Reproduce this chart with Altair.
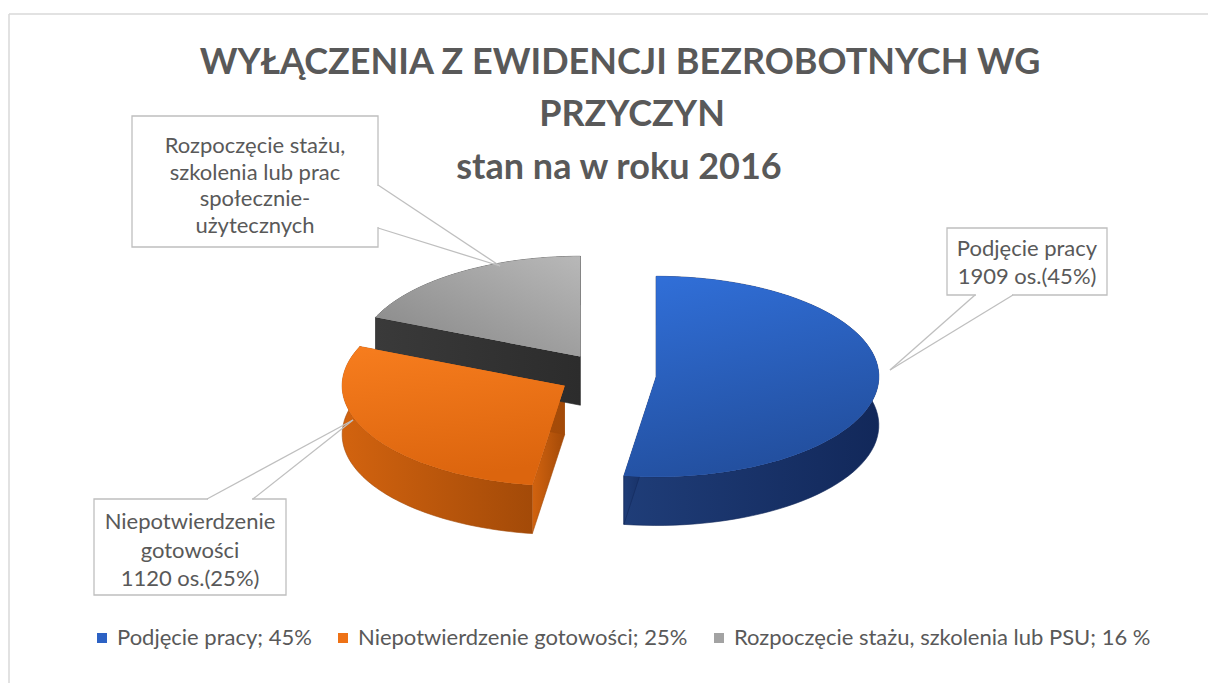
import altair as alt
import pandas as pd

# ---------------- data ----------------
categories = ["Podjęcie pracy", "Niepotwierdzenie gotowości", "Rozpoczęcie stażu, szkolenia lub PSU"]
percent = [45, 25, 16]
persons = [1909, 1120]
legend_labels = ["Podjęcie pracy; 45%", "Niepotwierdzenie gotowości; 25%",
                 "Rozpoczęcie stażu, szkolenia lub PSU; 16 %"]
title_lines = ["WYŁĄCZENIA Z EWIDENCJI BEZROBOTNYCH WG", "PRZYCZYN", "stan na w roku 2016"]
label_blue = ["Podjęcie pracy", f"{persons[0]} os.({percent[0]}%)"]
label_orange = ["Niepotwierdzenie", "gotowości", f"{persons[1]} os.({percent[1]}%)"]
label_gray = ["Rozpoczęcie stażu,", "szkolenia lub prac", "społecznie-", "użytecznych"]

# ---------------- styles ----------------
top_colors = ["#2d62c4", "#ee7216", "#a3a3a3"]
top_gradients = [
    # (x1, y1, x2, y2, start colour, end colour)
    (0, 0, 0.3, 1, "#3170da", "#2350a0"),
    (0, 0, 0.2, 1, "#f77d1e", "#dc650e"),
    (1, 0, 0, 1, "#b8b8b8", "#858585"),
]
wall_gradients = [
    (0, 0, 1, 0, "#1f3d78", "#12285a"),
    (0, 0, 1, 0, "#d2630f", "#a34a08"),
    (0, 0, 1, 0, "#3a3a3a", "#2c2c2c"),
]
TXT = "#595959"
LINE = "#bfbfbf"
FONT = "Lato"

W, H = 1200, 675
OFF = 8  # page margin
CX, CY = 614 - OFF, 385 - OFF   # pie centre (plot coords)
RX, RY = 225, 103               # ellipse radii
DEPTH = 50
EXPL = 0.22
N = 72

df = pd.DataFrame({"cat": categories, "legend": legend_labels,
                   "value": percent, "idx": list(range(len(categories)))})

xs = alt.Scale(domain=[0, W], nice=False, zero=False)
ys = alt.Scale(domain=[0, H], nice=False, zero=False, reverse=True)
X = alt.X("px:Q", scale=xs, axis=None)
Y = alt.Y("py:Q", scale=ys, axis=None)


def lin_grad(gx1, gy1, gx2, gy2, c1, c2):
    return alt.LinearGradient(
        gradient="linear", x1=gx1, y1=gy1, x2=gx2, y2=gy2,
        stops=[alt.GradientStop(color=c1, offset=0), alt.GradientStop(color=c2, offset=1)],
    )


geo = (
    alt.Chart(df)
    .transform_joinaggregate(total="sum(value)")
    .transform_window(cum="sum(value)", sort=[alt.SortField("idx")], frame=[None, 0])
    .transform_calculate(a0="2*PI*(datum.cum-datum.value)/datum.total")
    .transform_calculate(a1="2*PI*datum.cum/datum.total")
    .transform_calculate(ox=f"{EXPL}*sin((datum.a0+datum.a1)/2)")
    .transform_calculate(oy=f"{EXPL}*cos((datum.a0+datum.a1)/2)")
)

wall_geo = (
    geo.transform_calculate(part="[0,1,2]")
    .transform_flatten(["part"])
    .transform_calculate(k=f"sequence(0,{2 * N + 2})")
    .transform_flatten(["k"])
    .transform_calculate(j=f"floor(datum.k*4/{2 * N + 2})")
    .transform_calculate(
        ang=f"datum.part==0 ? datum.a0+(datum.a1-datum.a0)*(datum.k<={N} ? datum.k/{N} : ({2 * N + 1}-datum.k)/{N}) : (datum.part==1 ? datum.a0 : datum.a1)")
    .transform_calculate(r="datum.part==0 ? 1 : ((datum.j==1||datum.j==2) ? 1 : 0)")
    .transform_calculate(z=f"datum.part==0 ? (datum.k<={N} ? 0 : 1) : (datum.j>=2 ? 1 : 0)")
    .transform_calculate(px=f"{CX}+{RX}*(datum.ox+datum.r*sin(datum.ang))")
    .transform_calculate(py=f"{CY}-{RY}*(datum.oy+datum.r*cos(datum.ang))+{DEPTH}*datum.z")
)

wall_layers = []
for cat, g in zip(categories, wall_gradients):
    wall_layers.append(
        wall_geo.transform_filter(alt.datum.cat == cat)
        .mark_line(filled=True, fill=lin_grad(*g), stroke=g[5], strokeWidth=0.6)
        .encode(x=X, y=Y, detail="part:N", order="k:Q")
    )

top_geo = (
    geo.transform_calculate(k=f"sequence(0,{N + 2})")
    .transform_flatten(["k"])
    .transform_calculate(ang=f"datum.a0+(datum.a1-datum.a0)*(datum.k-1)/{N}")
    .transform_calculate(r="datum.k==0 ? 0 : 1")
    .transform_calculate(px=f"{CX}+{RX}*(datum.ox+datum.r*sin(datum.ang))")
    .transform_calculate(py=f"{CY}-{RY}*(datum.oy+datum.r*cos(datum.ang))")
)

tops = top_geo.mark_line(filled=True).encode(
    x=X, y=Y,
    detail="cat:N",
    order="k:Q",
    color=alt.Color(
        "legend:N",
        scale=alt.Scale(domain=legend_labels, range=top_colors),
        legend=alt.Legend(
            orient="none", legendX=83, legendY=619,
            direction="horizontal", title=None, symbolType="square",
            symbolSize=100, symbolStrokeWidth=0, labelFont=FONT,
            labelFontSize=22, labelColor=TXT, columnPadding=20,
            labelOffset=4, labelLimit=700,
        ),
    ),
)

grad_layers = []
for cat, g in zip(categories, top_gradients):
    grad_layers.append(
        top_geo.transform_filter(alt.datum.cat == cat)
        .mark_line(filled=True, fill=lin_grad(*g))
        .encode(x=X, y=Y, order="k:Q")
    )

one = pd.DataFrame({"o": [0]})


def P(v):
    return v - OFF


def rule(x1, y1, x2, y2, color=LINE, width=1.3):
    return alt.Chart(one).mark_rule(color=color, strokeWidth=width).encode(
        x=alt.value(P(x1)), y=alt.value(P(y1)), x2=alt.value(P(x2)), y2=alt.value(P(y2)))


def box(x1, y1, x2, y2):
    return alt.Chart(one).mark_rect(fill="white", stroke=LINE, strokeWidth=1.3).encode(
        x=alt.value(P(x1)), y=alt.value(P(y1)), x2=alt.value(P(x2)), y2=alt.value(P(y2)))


def text(lines, x, y, size=22, lh=28, bold=False):
    return alt.Chart(one).mark_text(
        font=FONT, fontSize=size, color=TXT, align="center", baseline="alphabetic",
        lineHeight=lh, fontWeight="bold" if bold else "normal",
    ).encode(x=alt.value(P(x)), y=alt.value(P(y)), text=alt.value(lines))


frame = [
    rule(9, 14, 9, 700, color="#d9d9d9", width=1.5),
    rule(9, 14, 1220, 14, color="#d9d9d9", width=1.5),
]

callouts = [
    # blue
    box(947, 228, 1107, 295),
    rule(976, 295, 1012, 295, color="white", width=3),
    rule(975, 295, 890, 370),
    rule(1013, 295, 890, 370),
    text(label_blue, 1027, 256, lh=28),
    # orange
    box(94, 499, 286, 595),
    rule(208, 499, 252, 499, color="white", width=3),
    rule(207, 499, 353, 420),
    rule(253, 499, 353, 420),
    text(label_orange, 190, 529, lh=28.5),
    # gray
    box(132, 116, 378, 247),
    rule(378, 186, 378, 227, color="white", width=3),
    rule(378, 185, 500, 266),
    rule(378, 228, 500, 266),
    text(label_gray, 255, 153, lh=26.7),
]

titles = [
    text(title_lines[0], 620, 74, size=36, bold=True),
    text(title_lines[1], 632, 126, size=36, bold=True),
    text(title_lines[2], 619, 179, size=36, bold=True),
]

chart = alt.layer(*frame, *wall_layers, tops, *grad_layers, *callouts, *titles).properties(
    width=W, height=H, padding=0,
    autosize=alt.AutoSizeParams(type="fit", contains="padding"),
).configure_view(stroke=None)

chart.save("out.html", embed_options={"renderer": "svg", "actions": False})
